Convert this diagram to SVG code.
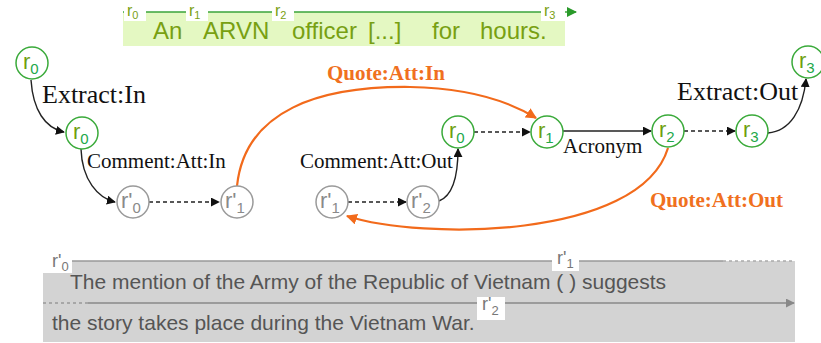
<svg xmlns="http://www.w3.org/2000/svg" width="821" height="343" viewBox="0 0 821 343">
<defs>
<style>
.g{fill:#fff;stroke:#3aaa3a;stroke-width:1.5}
.p{fill:#fff;stroke:#9a9a9a;stroke-width:1.5}
.gt{font-family:"Liberation Sans",Arial,sans-serif;font-size:22px;fill:#6f9f10}
.gs{fill:#22a84a;font-size:15px}
.pt{font-family:"Liberation Sans",Arial,sans-serif;font-size:22px;fill:#8a8a8a}
.ps{font-size:15px}
.lab{font-family:"Liberation Serif","Times New Roman",serif;fill:#111}
.big{font-size:26px}
.sm{font-size:21px}
.q{font-family:"Liberation Serif","Times New Roman",serif;font-size:21px;font-weight:bold;fill:#f07020}
.k{fill:none;stroke:#222;stroke-width:1.4}
.d{stroke-dasharray:4 3}
.o{fill:none;stroke:#f26a1b;stroke-width:2.2}
.band{font-family:"Liberation Sans",Arial,sans-serif;font-size:24px;fill:#78a012}
.tl{font-family:"Liberation Sans",Arial,sans-serif;font-size:16px;fill:#7aa012}
.bt{font-family:"Liberation Sans",Arial,sans-serif;font-size:21px;fill:#555}
.bl{font-family:"Liberation Sans",Arial,sans-serif;font-size:18px;fill:#777}
</style>
<marker id="ak" viewBox="0 0 10 10" refX="9" refY="5" markerWidth="9" markerHeight="9" markerUnits="userSpaceOnUse" orient="auto"><path d="M0,0 L10,5 L0,10 z" fill="#111"/></marker>
<marker id="ao" viewBox="0 0 10 10" refX="9" refY="5" markerWidth="11" markerHeight="11" markerUnits="userSpaceOnUse" orient="auto"><path d="M0,0 L10,5 L0,10 z" fill="#f26a1b"/></marker>
<marker id="ag" viewBox="0 0 10 10" refX="9" refY="5" markerWidth="10" markerHeight="10" markerUnits="userSpaceOnUse" orient="auto"><path d="M0,0 L10,5 L0,10 z" fill="#2a9a2a"/></marker>
<marker id="ap" viewBox="0 0 10 10" refX="9" refY="5" markerWidth="9" markerHeight="9" markerUnits="userSpaceOnUse" orient="auto"><path d="M0,0 L10,5 L0,10 z" fill="#888"/></marker>
</defs>

<g id="sentence-top">
<rect x="123" y="12" width="442" height="34" fill="#e4f8c2"/>
<line x1="123" y1="12" x2="576" y2="12" stroke="#3aa43a" stroke-width="1.5" marker-end="url(#ag)"/>
<rect x="124" y="2" width="22" height="19" fill="#fff"/>
<rect x="186" y="2" width="22" height="19" fill="#fff"/>
<rect x="272" y="2" width="22" height="19" fill="#fff"/>
<rect x="541" y="2" width="24" height="19" fill="#fff"/>
<text class="tl" x="127" y="16">r<tspan font-size="11" dy="3">0</tspan></text>
<text class="tl" x="189" y="16">r<tspan font-size="11" dy="3">1</tspan></text>
<text class="tl" x="275" y="16">r<tspan font-size="11" dy="3">2</tspan></text>
<text class="tl" x="544" y="16">r<tspan font-size="11" dy="3">3</tspan></text>
<text class="band" x="153" y="39">An</text>
<text class="band" x="203" y="39">ARVN</text>
<text class="band" x="292" y="39">officer</text>
<text class="band" x="368" y="39">[...]</text>
<text class="band" x="432" y="39">for</text>
<text class="band" x="480" y="39">hours.</text>
</g>

<g id="connectors">
<path class="k" d="M31,80 C33,110 45,128 64,132" marker-end="url(#ak)"/>
<path class="k" d="M81,149 C82,180 98,198 115,202" marker-end="url(#ak)"/>
<path class="k d" d="M149,202 L219,202" marker-end="url(#ak)"/>
<path class="k d" d="M348,202 L406,202" marker-end="url(#ak)"/>
<path class="k" d="M439,201 C452,196 458,178 458,149" marker-end="url(#ak)"/>
<path class="k d" d="M474,132 L530,132" marker-end="url(#ak)"/>
<path class="k" d="M563,131 L651,131" marker-end="url(#ak)"/>
<path class="k d" d="M684,131 L735,131" marker-end="url(#ak)"/>
<path class="k" d="M768,133 C790,131 803,110 806,79" marker-end="url(#ak)"/>
<path class="o" d="M237,186 C245,110 320,86 410,87 C470,88 510,102 536,118" marker-end="url(#ao)"/>
<path class="o" d="M668,148 C640,240 420,240 347,216" marker-end="url(#ao)"/>
<text class="lab big" x="42" y="103">Extract:In</text>
<text class="lab sm" x="87" y="168">Comment:Att:In</text>
<text class="lab sm" x="300" y="168">Comment:Att:Out</text>
<text class="q" x="327" y="80">Quote:Att:In</text>
<text class="lab sm" x="563" y="153">Acronym</text>
<text class="lab big" x="677" y="100">Extract:Out</text>
<text class="q" x="650" y="207">Quote:Att:Out</text>
</g>

<g id="n-r0-top"><circle class="g" cx="32" cy="63" r="16"/><text class="gt" x="23" y="69">r<tspan class="gs" dy="5">0</tspan></text></g>
<g id="n-r0-a"><circle class="g" cx="82" cy="133" r="16"/><text class="gt" x="73" y="139">r<tspan class="gs" dy="5">0</tspan></text></g>
<g id="n-rp0"><circle class="p" cx="133" cy="202" r="16"/><text class="pt" x="121" y="208">r'<tspan class="ps" dy="5">0</tspan></text></g>
<g id="n-rp1"><circle class="p" cx="237" cy="202" r="16"/><text class="pt" x="225" y="208">r'<tspan class="ps" dy="5">1</tspan></text></g>
<g id="n-rp1b"><circle class="p" cx="332" cy="202" r="16"/><text class="pt" x="320" y="208">r'<tspan class="ps" dy="5">1</tspan></text></g>
<g id="n-rp2"><circle class="p" cx="423" cy="202" r="16"/><text class="pt" x="411" y="208">r'<tspan class="ps" dy="5">2</tspan></text></g>
<g id="n-r0-b"><circle class="g" cx="458" cy="132" r="16"/><text class="gt" x="449" y="138">r<tspan class="gs" dy="5">0</tspan></text></g>
<g id="n-r1"><circle class="g" cx="547" cy="132" r="16"/><text class="gt" x="538" y="138">r<tspan class="gs" dy="5">1</tspan></text></g>
<g id="n-r2"><circle class="g" cx="668" cy="131" r="16"/><text class="gt" x="659" y="137">r<tspan class="gs" dy="5">2</tspan></text></g>
<g id="n-r3"><circle class="g" cx="752" cy="131" r="16"/><text class="gt" x="743" y="137">r<tspan class="gs" dy="5">3</tspan></text></g>
<g id="n-r3-top"><circle class="g" cx="808" cy="62" r="16"/><text class="gt" x="799" y="68">r<tspan class="gs" dy="5">3</tspan></text></g>

<g id="comment-panel">
<rect x="43" y="261" width="752" height="81" fill="#d3d3d3"/>
<line x1="43" y1="261" x2="723" y2="261" stroke="#999" stroke-width="1.3"/>
<line x1="723" y1="261" x2="795" y2="261" stroke="#aaa" stroke-width="1.3" stroke-dasharray="3 3"/>
<line x1="43" y1="303" x2="88" y2="303" stroke="#999" stroke-width="1.3" stroke-dasharray="3 3"/>
<line x1="88" y1="303" x2="794" y2="303" stroke="#888" stroke-width="1.3" marker-end="url(#ap)"/>
<rect x="43" y="250" width="29" height="23" fill="#fff"/>
<rect x="552" y="250" width="27" height="21" fill="#fff"/>
<rect x="477" y="297" width="28" height="23" fill="#fff"/>
<text class="bl" x="52" y="267">r'<tspan font-size="13" dy="4">0</tspan></text>
<text class="bl" x="557" y="264">r'<tspan font-size="13" dy="4">1</tspan></text>
<text class="bl" x="482" y="310">r'<tspan font-size="13" dy="5">2</tspan></text>
<text class="bt" x="70" y="289">The mention of the Army of the Republic of Vietnam ( ) suggests</text>
<text class="bt" x="52" y="330">the story takes place during the Vietnam War.</text>
</g>
</svg>
